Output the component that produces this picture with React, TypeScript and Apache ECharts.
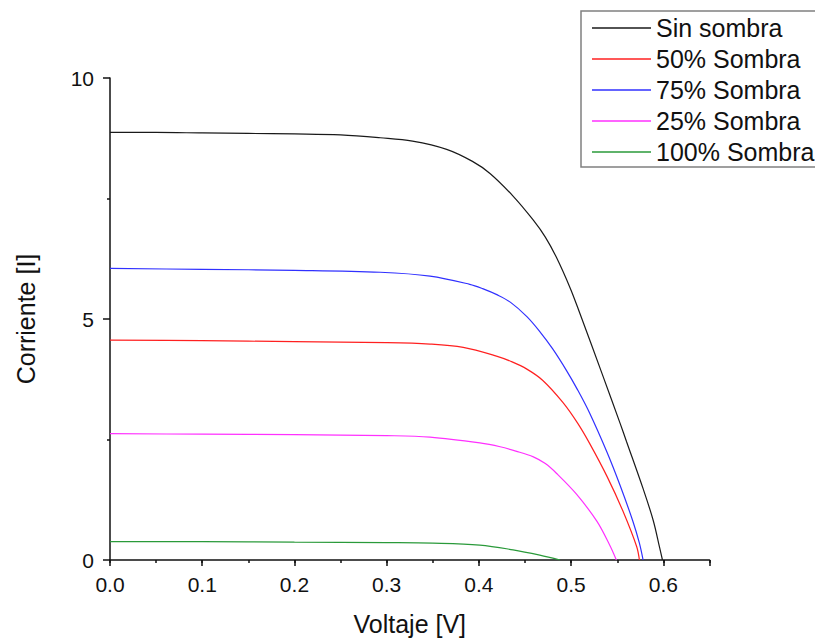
import React, { useEffect, useRef } from "react";
import * as echarts from "echarts";

const seriesNames = ["Sin sombra", "50% Sombra", "75% Sombra", "25% Sombra", "100% Sombra"];
const seriesColors = ["#1a1a1a", "#ff2020", "#3030ff", "#ff30ff", "#2a9a3a"];

const sinSombraX = [0, 0.05, 0.1, 0.15, 0.2, 0.25, 0.293, 0.328, 0.365, 0.393, 0.412, 0.437, 0.459, 0.472, 0.484, 0.499, 0.509, 0.534, 0.553, 0.56, 0.578, 0.589, 0.596, 0.599];
const sinSombraY = [8.87, 8.87, 8.86, 8.85, 8.84, 8.82, 8.76, 8.69, 8.52, 8.27, 8.02, 7.55, 7.05, 6.7, 6.28, 5.64, 5.14, 3.84, 2.84, 2.46, 1.48, 0.82, 0.25, 0];

const s50X = [0, 0.1, 0.2, 0.3, 0.347, 0.383, 0.419, 0.436, 0.452, 0.469, 0.491, 0.507, 0.52, 0.539, 0.556, 0.571, 0.574];
const s50Y = [4.56, 4.55, 4.53, 4.51, 4.48, 4.41, 4.23, 4.11, 3.96, 3.73, 3.27, 2.84, 2.42, 1.73, 1.02, 0.28, 0];

const s75X = [0, 0.1, 0.2, 0.293, 0.347, 0.39, 0.404, 0.42, 0.434, 0.452, 0.466, 0.48, 0.495, 0.507, 0.52, 0.539, 0.553, 0.567, 0.574, 0.578];
const s75Y = [6.05, 6.03, 6.01, 5.97, 5.89, 5.72, 5.63, 5.5, 5.35, 5.05, 4.74, 4.38, 3.93, 3.53, 3.05, 2.23, 1.55, 0.8, 0.35, 0];

const s25X = [0, 0.1, 0.2, 0.3, 0.347, 0.401, 0.423, 0.44, 0.459, 0.472, 0.484, 0.506, 0.528, 0.542, 0.549];
const s25Y = [2.62, 2.61, 2.6, 2.58, 2.55, 2.43, 2.35, 2.26, 2.14, 2.0, 1.8, 1.36, 0.8, 0.3, 0];

const s100X = [0, 0.1, 0.2, 0.3, 0.35, 0.401, 0.437, 0.466, 0.488];
const s100Y = [0.38, 0.38, 0.37, 0.36, 0.35, 0.31, 0.21, 0.1, 0];

const xTicks = ["0.0", "0.1", "0.2", "0.3", "0.4", "0.5", "0.6"];
const yTicks = ["0", "5", "10"];

const FONT = "Liberation Sans, Arial, sans-serif";

function pairs(xs: number[], ys: number[]) {
  return xs.map((x, i) => [x, ys[i]]);
}

export default function App() {
  const ref = useRef<HTMLDivElement>(null);
  useEffect(() => {
    if (!ref.current) return;
    const chart = echarts.init(ref.current, undefined, { renderer: "svg" });
    const allX = [sinSombraX, s50X, s75X, s25X, s100X];
    const allY = [sinSombraY, s50Y, s75Y, s25Y, s100Y];
    chart.setOption({
      animation: false,
      backgroundColor: "#fff",
      grid: { left: 110, right: 105.5, top: 78, bottom: 79.3 },
      legend: {
        orient: "vertical",
        left: 581,
        top: 11,
        padding: [2, 60, 0, 11],
        itemGap: 1,
        itemWidth: 59,
        itemHeight: 1.5,
        icon: "rect",
        borderColor: "#808080",
        borderWidth: 1.5,
        data: seriesNames,
        textStyle: { fontSize: 25, lineHeight: 30, color: "#111", fontFamily: FONT },
      },
      xAxis: [
        {
          type: "value",
          position: "bottom",
          min: 0,
          max: 0.65,
          interval: 0.1,
          name: "Voltaje [V]",
          nameLocation: "middle",
          nameGap: 51,
          nameTextStyle: { fontSize: 25, color: "#111", fontFamily: FONT },
          axisLine: { show: true, lineStyle: { color: "#111", width: 1.5 } },
          axisTick: { show: true, inside: false, length: 6, lineStyle: { color: "#111", width: 1.5 } },
          axisLabel: {
            margin: 14,
            fontSize: 21,
            color: "#111",
            fontFamily: FONT,
            formatter: (v: number) => {
              const idx = Math.round(v * 10);
              if (Math.abs(v * 10 - idx) > 1e-6) return "";
              return xTicks[idx] ?? "";
            },
          },
          splitLine: { show: false },
        },
        {
          type: "value",
          position: "bottom",
          min: 0,
          max: 0.65,
          interval: 0.05,
          axisLine: { show: false },
          axisTick: { show: true, inside: false, length: 3, lineStyle: { color: "#111", width: 1.5 } },
          axisLabel: { show: false },
          splitLine: { show: false },
        },
      ],
      yAxis: {
        type: "value",
        min: 0,
        max: 10,
        interval: 5,
        name: "Corriente [I]",
        nameLocation: "middle",
        nameGap: 72,
        nameTextStyle: { fontSize: 25, color: "#111", fontFamily: FONT },
        axisLine: { show: true, lineStyle: { color: "#111", width: 1.5 } },
        axisTick: { show: true, inside: false, length: 7, lineStyle: { color: "#111", width: 1.5 } },
        minorTick: { show: true, splitNumber: 2, length: 3, lineStyle: { color: "#111", width: 1.5 } },
        axisLabel: {
          margin: 16,
          fontSize: 21,
          color: "#111",
          fontFamily: FONT,
          formatter: (v: number) => yTicks[Math.round(v / 5)] ?? "",
        },
        splitLine: { show: false },
      },
      series: seriesNames.map((name, i) => ({
        name,
        type: "line",
        xAxisIndex: 0,
        data: pairs(allX[i], allY[i]),
        showSymbol: false,
        symbol: "none",
        smooth: 0.35,
        lineStyle: { color: seriesColors[i], width: 1.2 },
        itemStyle: { color: seriesColors[i] },
      })),
    });
    return () => chart.dispose();
  }, []);
  return <div ref={ref} style={{ width: 815, height: 641, position: "absolute", left: 0, top: 0 }} />;
}
